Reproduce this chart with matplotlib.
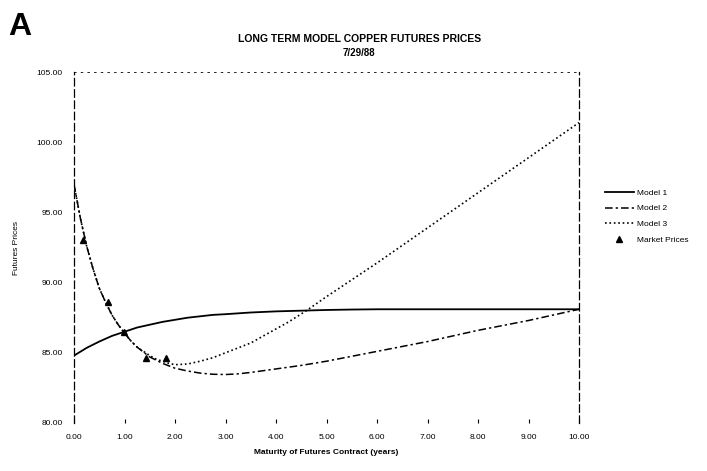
import numpy as np
import matplotlib.pyplot as plt

plt.rcParams['font.family'] = ['Liberation Sans', 'DejaVu Sans']

# maturities (years) and model prices
t_model1 = [0, 0.25, 0.5, 0.75, 1.0, 1.25, 1.5, 1.75, 2.0, 2.25, 2.5, 2.75, 3.0, 3.5, 4.0, 4.5,
            5.0, 5.5, 6.0, 7.0, 8.0, 9.0, 10.0]
model1 = [84.8, 85.35, 85.8, 86.2, 86.5, 86.8, 87.0, 87.2, 87.35, 87.5, 87.6, 87.7, 87.75, 87.87, 87.95, 88.0,
          88.05, 88.08, 88.1, 88.1, 88.1, 88.1, 88.1]

t_model2 = [0, 0.125, 0.25, 0.375, 0.5, 0.625, 0.75, 0.875, 1.0, 1.125, 1.25, 1.375, 1.5, 1.75, 2.0,
            2.25, 2.5, 2.75, 3.0, 3.25, 3.5, 4.0, 4.5, 5.0, 5.5, 6.0, 6.5, 7.0, 7.5, 8.0, 8.5, 9.0, 9.5, 10.0]
model2 = [97.0, 94.6, 92.6, 91.0, 89.6, 88.6, 87.7, 87.0, 86.4, 85.85, 85.4, 85.05, 84.7, 84.25, 83.9,
          83.7, 83.55, 83.47, 83.45, 83.5, 83.6, 83.85, 84.1, 84.4, 84.75, 85.1, 85.45, 85.8, 86.2, 86.6,
          86.95, 87.3, 87.7, 88.1]

t_model3 = [0, 0.125, 0.25, 0.375, 0.5, 0.625, 0.75, 0.875, 1.0, 1.125, 1.25, 1.375, 1.5, 1.625, 1.75,
            1.875, 2.0, 2.25, 2.5, 2.75, 3.0, 3.25, 3.5, 3.75, 4.0, 4.25, 4.6, 5.0, 5.5, 6.0, 6.5, 7.0,
            7.5, 8.0, 8.5, 9.0, 9.5, 10.0]
model3 = [97.0, 94.6, 92.6, 91.0, 89.6, 88.6, 87.7, 87.0, 86.4, 85.85, 85.4, 85.1, 84.8, 84.55, 84.4,
          84.25, 84.15, 84.2, 84.4, 84.65, 85.0, 85.35, 85.7, 86.2, 86.7, 87.2, 88.0, 89.0, 90.2, 91.4,
          92.65, 93.9, 95.15, 96.4, 97.65, 98.9, 100.15, 101.4]

t_market = [0.17, 0.67, 0.98, 1.42, 1.83]
market = [93.0, 88.6, 86.5, 84.6, 84.6]

x_ticks = np.arange(0, 11, 1)
y_ticks = np.arange(80, 106, 5)

fig = plt.figure(figsize=(7.07, 4.71), dpi=100)
ax = fig.add_axes([0.1047, 0.102, 0.7143, 0.745])

ax.plot(t_model1, model1, '-', color='black', lw=1.3, label='Model 1')
ax.plot(t_model2, model2, '-.', color='black', lw=1.1, label='Model 2', dashes=(5, 2, 1.5, 2))
ax.plot(t_model3, model3, ':', color='black', lw=1.2, label='Model 3')
ax.plot(t_market, market, '^', color='black', ms=5, linestyle='none', label='Market Prices')

ax.set_xlim(0, 10)
ax.set_ylim(80, 105)
ax.set_xticks(x_ticks)
ax.set_yticks(y_ticks)
ax.set_xticklabels(['%.2f' % v for v in x_ticks], fontsize=6)
ax.set_yticklabels(['%.2f' % v for v in y_ticks], fontsize=6)
ax.tick_params(axis='x', direction='in', length=3, pad=8, width=0.8)
ax.tick_params(axis='y', length=0, pad=8)

ax.spines['top'].set_linestyle((0, (2, 6)))
ax.spines['top'].set_linewidth(0.6)
ax.spines['bottom'].set_visible(False)
ax.spines['left'].set_linestyle((0, (6, 3)))
ax.spines['right'].set_linestyle((0, (6, 3)))
ax.spines['left'].set_linewidth(0.9)
ax.spines['right'].set_linewidth(0.9)

ax.set_xlabel('Maturity of Futures Contract (years)', fontsize=6, fontweight='bold', labelpad=6)
ax.set_ylabel('Futures Prices', fontsize=6, labelpad=12)

fig.text(0.508, 0.911, 'LONG TERM MODEL COPPER FUTURES PRICES', ha='center', fontsize=7.5, fontweight='bold')
fig.text(0.508, 0.882, '7/29/88', ha='center', fontsize=7, fontweight='bold')
fig.text(0.011, 0.925, 'A', fontsize=23, fontweight='bold')

fig.legend(loc='upper left', bbox_to_anchor=(0.845, 0.615), frameon=False, fontsize=6,
           handlelength=3.5, labelspacing=0.95, handletextpad=0.3)

fig.savefig('out.png', dpi=100)
